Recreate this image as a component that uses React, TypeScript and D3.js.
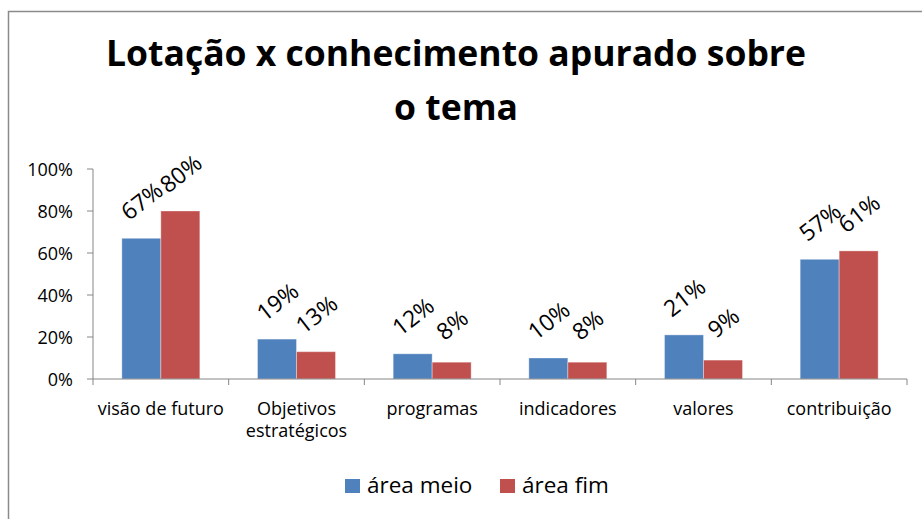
import React from "react";
import { scaleBand, scaleLinear } from "d3";

const categories = [
  "visão de futuro",
  "Objetivos estratégicos",
  "programas",
  "indicadores",
  "valores",
  "contribuição",
];
const seriesNames = ["área meio", "área fim"];
const areaMeio = [0.67, 0.19, 0.12, 0.1, 0.21, 0.57];
const areaFim = [0.8, 0.13, 0.08, 0.08, 0.09, 0.61];
const yTicks = [0, 0.2, 0.4, 0.6, 0.8, 1];
const colors = ["#4F81BD", "#C0504D"];

const W = 922;
const H = 519;
const font = "'Open Sans', 'Noto Sans', sans-serif";

// wrap labels the way the original breaks them
const labelLines: Record<string, string[]> = {
  "Objetivos estratégicos": ["Objetivos", "estratégicos"],
};

export default function App() {
  const left = 93, right = 907, top = 169, bottom = 379;

  const x = scaleBand<string>().domain(categories).range([left, right]).padding(0);
  const xs = scaleBand<string>()
    .domain(seriesNames)
    .range([0, x.bandwidth()])
    .paddingInner(0)
    .paddingOuter(0.74);
  const y = scaleLinear().domain([0, 1]).range([bottom, top]);

  const series = [areaMeio, areaFim];
  const axisColor = "#868686";

  return (
    <svg
      width={W}
      height={H}
      style={{ position: "absolute", left: 0, top: 0, background: "#fff" }}
      fontFamily={font}
    >
      <rect x={8.5} y={11.5} width={1000} height={600} fill="#fff" stroke="#8a8a8a" strokeWidth={1.5} />

      {/* title */}
      <text x={456} y={66} textAnchor="middle" fontSize={35.5} fontWeight="bold" fill="#000">
        Lotação x conhecimento apurado sobre
      </text>
      <text x={456} y={120} textAnchor="middle" fontSize={35.5} fontWeight="bold" fill="#000">
        o tema
      </text>

      {/* y axis */}
      <line x1={left} x2={left} y1={top} y2={bottom} stroke={axisColor} strokeWidth={1} />
      {yTicks.map((t) => (
        <g key={t}>
          <line x1={left - 6} x2={left} y1={y(t)} y2={y(t)} stroke={axisColor} />
          <text x={73} y={y(t)} textAnchor="end" dominantBaseline="central" fontSize={18} fill="#000">
            {Math.round(t * 100)}%
          </text>
        </g>
      ))}

      {/* bars */}
      {series.map((vals, si) =>
        vals.map((v, i) => {
          const bx = (x(categories[i]) as number) + (xs(seriesNames[si]) as number);
          return (
            <rect
              key={si + "-" + i}
              x={bx}
              y={y(v)}
              width={xs.bandwidth()}
              height={bottom - y(v)}
              fill={colors[si]}
              stroke="#ffffff"
              strokeOpacity={0.35}
              strokeWidth={1}
            />
          );
        })
      )}

      {/* x axis */}
      <line x1={left} x2={right} y1={bottom} y2={bottom} stroke={axisColor} />
      {categories.concat(["end"]).map((c, i) => {
        const tx = i < categories.length ? (x(c) as number) : right;
        return <line key={"t" + i} x1={tx} x2={tx} y1={bottom} y2={bottom + 6} stroke={axisColor} />;
      })}
      {categories.map((c) => {
        const cx = (x(c) as number) + x.bandwidth() / 2;
        const lines = labelLines[c] || [c];
        return (
          <text key={c} x={cx} y={415} textAnchor="middle" fontSize={18} fill="#000">
            {lines.map((l, li) => (
              <tspan key={li} x={cx} dy={li === 0 ? 0 : 22}>
                {l}
              </tspan>
            ))}
          </text>
        );
      })}

      {/* data labels */}
      {series.map((vals, si) =>
        vals.map((v, i) => {
          const cx = (x(categories[i]) as number) + (xs(seriesNames[si]) as number) + xs.bandwidth() / 2;
          const cy = y(v) - 38;
          return (
            <text
              key={"l" + si + "-" + i}
              x={cx}
              y={cy}
              textAnchor="middle"
              dominantBaseline="central"
              fontSize={23}
              fill="#000"
              transform={`rotate(-38, ${cx}, ${cy})`}
            >
              {Math.round(v * 100)}%
            </text>
          );
        })
      )}

      {/* legend */}
      <rect x={345} y={479} width={15} height={14} fill={colors[0]} />
      <text x={367} y={493} fontSize={22.5} fill="#000">{seriesNames[0]}</text>
      <rect x={500} y={479} width={15} height={14} fill={colors[1]} />
      <text x={522} y={493} fontSize={22.5} fill="#000">{seriesNames[1]}</text>
    </svg>
  );
}
